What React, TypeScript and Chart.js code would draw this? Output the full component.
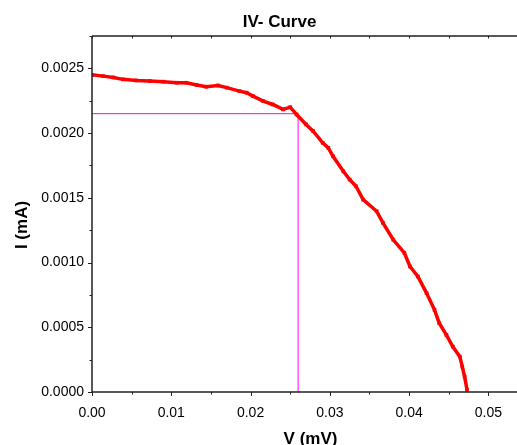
import React, { useEffect, useRef } from "react";
import { Chart, registerables } from "chart.js";

Chart.register(...registerables);

const voltage = [
  0.0, 0.0014, 0.0027, 0.0039, 0.0056, 0.0073, 0.009, 0.0107, 0.0119, 0.0132,
  0.0144, 0.0159, 0.017, 0.0186, 0.0195, 0.0203, 0.0216, 0.0228, 0.0241, 0.025,
  0.0258, 0.027, 0.0279, 0.0291, 0.0298, 0.0304, 0.0317, 0.0325, 0.0333, 0.0342,
  0.0359, 0.0367, 0.038, 0.0394, 0.0401, 0.0411, 0.0422, 0.0432, 0.0438, 0.0447,
  0.0455, 0.0464, 0.0467, 0.047, 0.0473,
];
const current = [
  0.00245, 0.00244, 0.00243, 0.002415, 0.002407, 0.002402, 0.002397, 0.002389,
  0.002389, 0.002371, 0.002358, 0.002368, 0.002351, 0.002324, 0.002312, 0.002286,
  0.002247, 0.002221, 0.002183, 0.0022, 0.002144, 0.002067, 0.002015, 0.001925,
  0.001886, 0.001821, 0.001705, 0.001641, 0.001589, 0.001486, 0.001396, 0.001306,
  0.001176, 0.001074, 0.00097, 0.000892, 0.000764, 0.000635, 0.000532, 0.000441,
  0.000351, 0.000273, 0.000196, 0.000118, 0.000016,
];
const mppV = 0.026;
const mppI = 0.00215;

const titleText = "IV- Curve";
const xTitle = "V (mV)";
const yTitle = "I (mA)";

const FONT = "'Liberation Sans', Arial, sans-serif";

const axesPlugin = {
  id: "axesPlugin",
  afterDraw(chart: any) {
    const ctx = chart.ctx;
    const xs = chart.scales.x;
    const ys = chart.scales.y;
    const { left, top, bottom } = chart.chartArea;
    const right = chart.width;
    ctx.save();
    ctx.strokeStyle = "#222";
    ctx.lineWidth = 1.5;
    ctx.beginPath();
    ctx.moveTo(left, top);
    ctx.lineTo(right, top);
    ctx.moveTo(left, top);
    ctx.lineTo(left, bottom);
    ctx.lineTo(right, bottom);
    ctx.stroke();
    ctx.lineWidth = 1;
    ctx.beginPath();
    for (let i = 0; i <= 10; i++) {
      const v = i * 0.005;
      const px = Math.round(xs.getPixelForValue(v)) + 0.5;
      const len = i % 2 === 0 ? 4 : 2.5;
      ctx.moveTo(px, bottom);
      ctx.lineTo(px, bottom + len);
      ctx.moveTo(px, top);
      ctx.lineTo(px, top + 2.5);
    }
    for (let i = 0; i <= 11; i++) {
      const v = i * 0.00025;
      const py = Math.round(ys.getPixelForValue(v)) + 0.5;
      const len = i % 2 === 0 ? 4 : 2.5;
      ctx.moveTo(left, py);
      ctx.lineTo(left - len, py);
    }
    ctx.stroke();

    ctx.fillStyle = "#000";
    ctx.font = `bold 17px ${FONT}`;
    ctx.textAlign = "center";
    ctx.textBaseline = "middle";
    ctx.fillText(titleText, 279.5, 22);
    ctx.fillText(xTitle, 310.5, 439);
    ctx.translate(22, 225);
    ctx.rotate(-Math.PI / 2);
    ctx.fillText(yTitle, 0, 0);
    ctx.restore();
  },
};

export default function App() {
  const ref = useRef<HTMLCanvasElement | null>(null);
  useEffect(() => {
    if (!ref.current) return;
    const redPts = voltage.map((v, i) => ({ x: v, y: current[i] }));
    const chart = new Chart(ref.current, {
      type: "scatter",
      data: {
        datasets: [
          {
            data: redPts,
            showLine: true,
            borderColor: "#ff0000",
            backgroundColor: "#ff0000",
            borderWidth: 3.5,
            pointStyle: "rect",
            pointRadius: 2.6,
            pointBorderWidth: 0,
            order: 1,
          },
          {
            data: [
              { x: 0, y: mppI },
              { x: mppV, y: mppI },
            ],
            showLine: true,
            borderColor: "#ff00ff",
            borderWidth: 1,
            pointRadius: 0,
            order: 2,
          },
          {
            data: [
              { x: mppV, y: 0 },
              { x: mppV, y: mppI },
            ],
            showLine: true,
            borderColor: "#ff00ff",
            borderWidth: 1,
            pointRadius: 0,
            order: 2,
          },
        ],
      },
      options: {
        responsive: false,
        animation: false,
        layout: { padding: { top: 36, right: 0, left: 0, bottom: 0 } },
        plugins: {
          legend: { display: false },
          tooltip: { enabled: false },
          title: { display: false },
        },
        scales: {
          x: {
            type: "linear",
            min: 0,
            max: 0.0531,
            border: { display: false },
            grid: { display: false, drawTicks: false },
            ticks: {
              stepSize: 0.01,
              includeBounds: false,
              autoSkip: false,
              maxRotation: 0,
              padding: 13,
              color: "#000",
              font: { family: FONT, size: 14 },
              callback: (v: any) => Number(v).toFixed(2),
            },
            afterFit: (s: any) => {
              s.height = 53;
            },
          },
          y: {
            type: "linear",
            min: 0,
            max: 0.00275,
            border: { display: false },
            grid: { display: false, drawTicks: false },
            ticks: {
              stepSize: 0.0005,
              includeBounds: false,
              autoSkip: false,
              padding: 8,
              color: "#000",
              font: { family: FONT, size: 14 },
              callback: (v: any) => Number(v).toFixed(4),
            },
            afterFit: (s: any) => {
              s.width = 92;
            },
          },
        },
      },
      plugins: [axesPlugin],
    });
    return () => chart.destroy();
  }, []);
  return (
    <div style={{ position: "fixed", left: 0, top: 0, width: 517, height: 445, background: "#fff" }}>
      <canvas ref={ref} width={517} height={445} />
    </div>
  );
}
